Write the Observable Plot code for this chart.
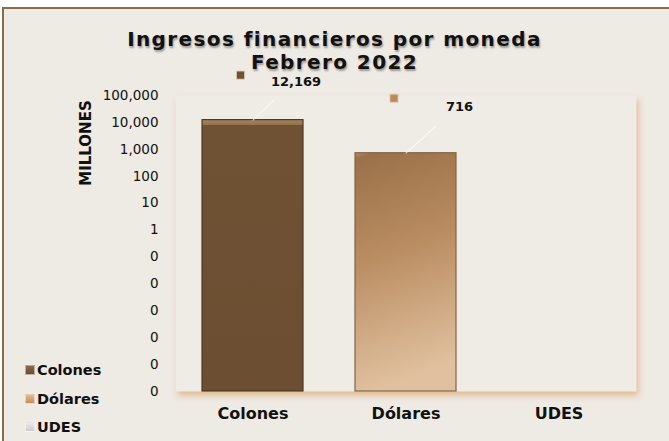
<!DOCTYPE html>
<html><head><meta charset="utf-8">
<script src="https://cdn.jsdelivr.net/npm/d3@7"></script>
<script src="https://cdn.jsdelivr.net/npm/@observablehq/plot@0.6"></script>
<style>
html,body{margin:0;padding:0;background:#fff;}
#wrap{position:relative;width:669px;height:441px;overflow:hidden;font-family:"DejaVu Sans",Verdana,sans-serif;color:#111;}
#frame{position:absolute;left:2px;top:7px;width:700px;height:470px;background:#EEEAE4;border-left:2px solid #8E6B48;border-top:2px solid #8E6B48;}
#title{position:absolute;left:0;width:669px;top:28px;text-align:center;font-weight:bold;font-size:20px;letter-spacing:1.4px;line-height:23px;color:#111;text-shadow:1px 2px 2px rgba(0,0,0,0.35);}
#ytitle{position:absolute;left:86px;top:143px;transform:translate(-50%,-50%) rotate(-90deg);font-weight:bold;font-size:15px;white-space:nowrap;}
#legend{position:absolute;left:25px;top:356px;font-weight:bold;font-size:14.5px;}
.li{height:28.5px;display:flex;align-items:center;}
.sw{width:10px;height:10px;margin-right:2px;box-sizing:border-box;}
#chart svg{position:absolute;left:0;top:0;}
</style></head>
<body>
<div id="wrap">
  <div id="frame"></div>
  <div id="chart"></div>
  <div id="title"></div>
  <div id="ytitle"></div>
  <div id="legend"></div>
</div>
<script>
// ---- data ----
const titleLines = ["Ingresos financieros por moneda", "Febrero 2022"];
const yTitle = "MILLONES";
const categories = ["Colones", "Dólares", "UDES"];
const values = [12169, 716, null];
const yTicks = [1e-6, 1e-5, 1e-4, 1e-3, 1e-2, 1e-1, 1, 10, 100, 1000, 10000, 100000];

// ---- styles ----
const barFills = ["url(#gColones)", "url(#gDolares)", "#D8D3D6"];
const barStrokes = ["#4F3823", "#7F6549", "#B8B0B4"];
const markerFills = ["#6F5134", "#B88A5C", "#D8D3D6"];
const legendSwatches = [
  "linear-gradient(#8a6a4a,#6b4d31)",
  "linear-gradient(#e0bb93,#c08e5c)",
  "linear-gradient(#ebe7ea,#cfc9cd)"
];
const labelOffsets = [{dx: 43, dy: -38}, {dx: 53.5, dy: -46}];
const markerOffsets = [{dx: -12.5, dy: -45}, {dx: -12, dy: -55}];
const leaderSpecs = [{length: 29, rotate: 46}, {length: 40, rotate: 48}];

document.getElementById("title").innerHTML = titleLines.join("<br>");
document.getElementById("ytitle").textContent = yTitle;
document.getElementById("legend").innerHTML = categories.map((c, i) =>
  `<div class="li"><span class="sw" style="background:${legendSwatches[i]};border:1px solid rgba(255,255,255,0.5)"></span>${c}</div>`).join("");

const defsMark = () => {
  const defs = d3.create("svg:defs");
  const gc = defs.append("linearGradient").attr("id", "gColones").attr("x1", 0).attr("x2", 0).attr("y1", 0).attr("y2", 1);
  [[0, "#A5845F"], [0.018, "#94744F"], [0.021, "#6F5134"], [1, "#6C4E32"]]
    .forEach(([o, c]) => gc.append("stop").attr("offset", o).attr("stop-color", c));
  const gd = defs.append("linearGradient").attr("id", "gDolares").attr("x1", 0).attr("x2", 0.15).attr("y1", 0).attr("y2", 1);
  [[0, "#B48B64"], [0.02, "#A67C55"], [0.024, "#9B7149"], [0.45, "#B98C61"], [1, "#E0C09E"]]
    .forEach(([o, c]) => gd.append("stop").attr("offset", o).attr("stop-color", c));
  return defs.node();
};

const leaderShape = {draw(context, l) { context.moveTo(0, 0); context.lineTo(0, -l); }};

const idx = d3.range(categories.length);
const marks = [
  defsMark,
  Plot.frame({fill: "#EFEBE5", stroke: null}),
  Plot.barY(idx, {x: i => categories[i], y1: yTicks[0], y2: i => values[i], fill: i => barFills[i], stroke: i => barStrokes[i], strokeWidth: 1.2}),
  Plot.axisY({ticks: yTicks, tickFormat: d => d3.format(",.0f")(d), tickSize: 0, tickPadding: 17, fontSize: 13.5, label: null}),
  Plot.axisX({tickSize: 0, tickPadding: 16, fontSize: 16, fontWeight: "bold", label: null})
];
[0, 1].forEach(i => {
  marks.push(Plot.vector([i], {x: j => categories[j], y: j => values[j], length: leaderSpecs[i].length, rotate: leaderSpecs[i].rotate, anchor: "start", shape: leaderShape, stroke: "#ffffff", strokeOpacity: 0.75, strokeWidth: 1}));
  marks.push(Plot.dot([i], {x: j => categories[j], y: j => values[j], symbol: "square", r: 4.6, fill: markerFills[i], stroke: "#e6d3bb", strokeWidth: 0.8, ...markerOffsets[i]}));
  marks.push(Plot.text([i], {x: j => categories[j], y: j => values[j], text: j => d3.format(",")(values[j]), fontWeight: "bold", fontSize: 13, fill: "#111", ...labelOffsets[i]}));
});

const plot = Plot.plot({
  width: 669, height: 441,
  marginLeft: 175, marginRight: 33, marginTop: 95, marginBottom: 50,
  style: {background: "transparent", fontFamily: "'DejaVu Sans', Verdana, sans-serif", color: "#111", overflow: "visible"},
  x: {domain: categories, paddingInner: 0.34, paddingOuter: 0.17, label: null, axis: null},
  y: {type: "log", domain: [yTicks[0], yTicks[yTicks.length - 1]], label: null, axis: null},
  color: {type: "identity"},
  marks
});
document.getElementById("chart").appendChild(plot);
const fr = plot.querySelector('[aria-label="frame"]');
if (fr) fr.style.filter = "drop-shadow(2px 4px 3px #E2BB92)";
</script>
</body></html>
